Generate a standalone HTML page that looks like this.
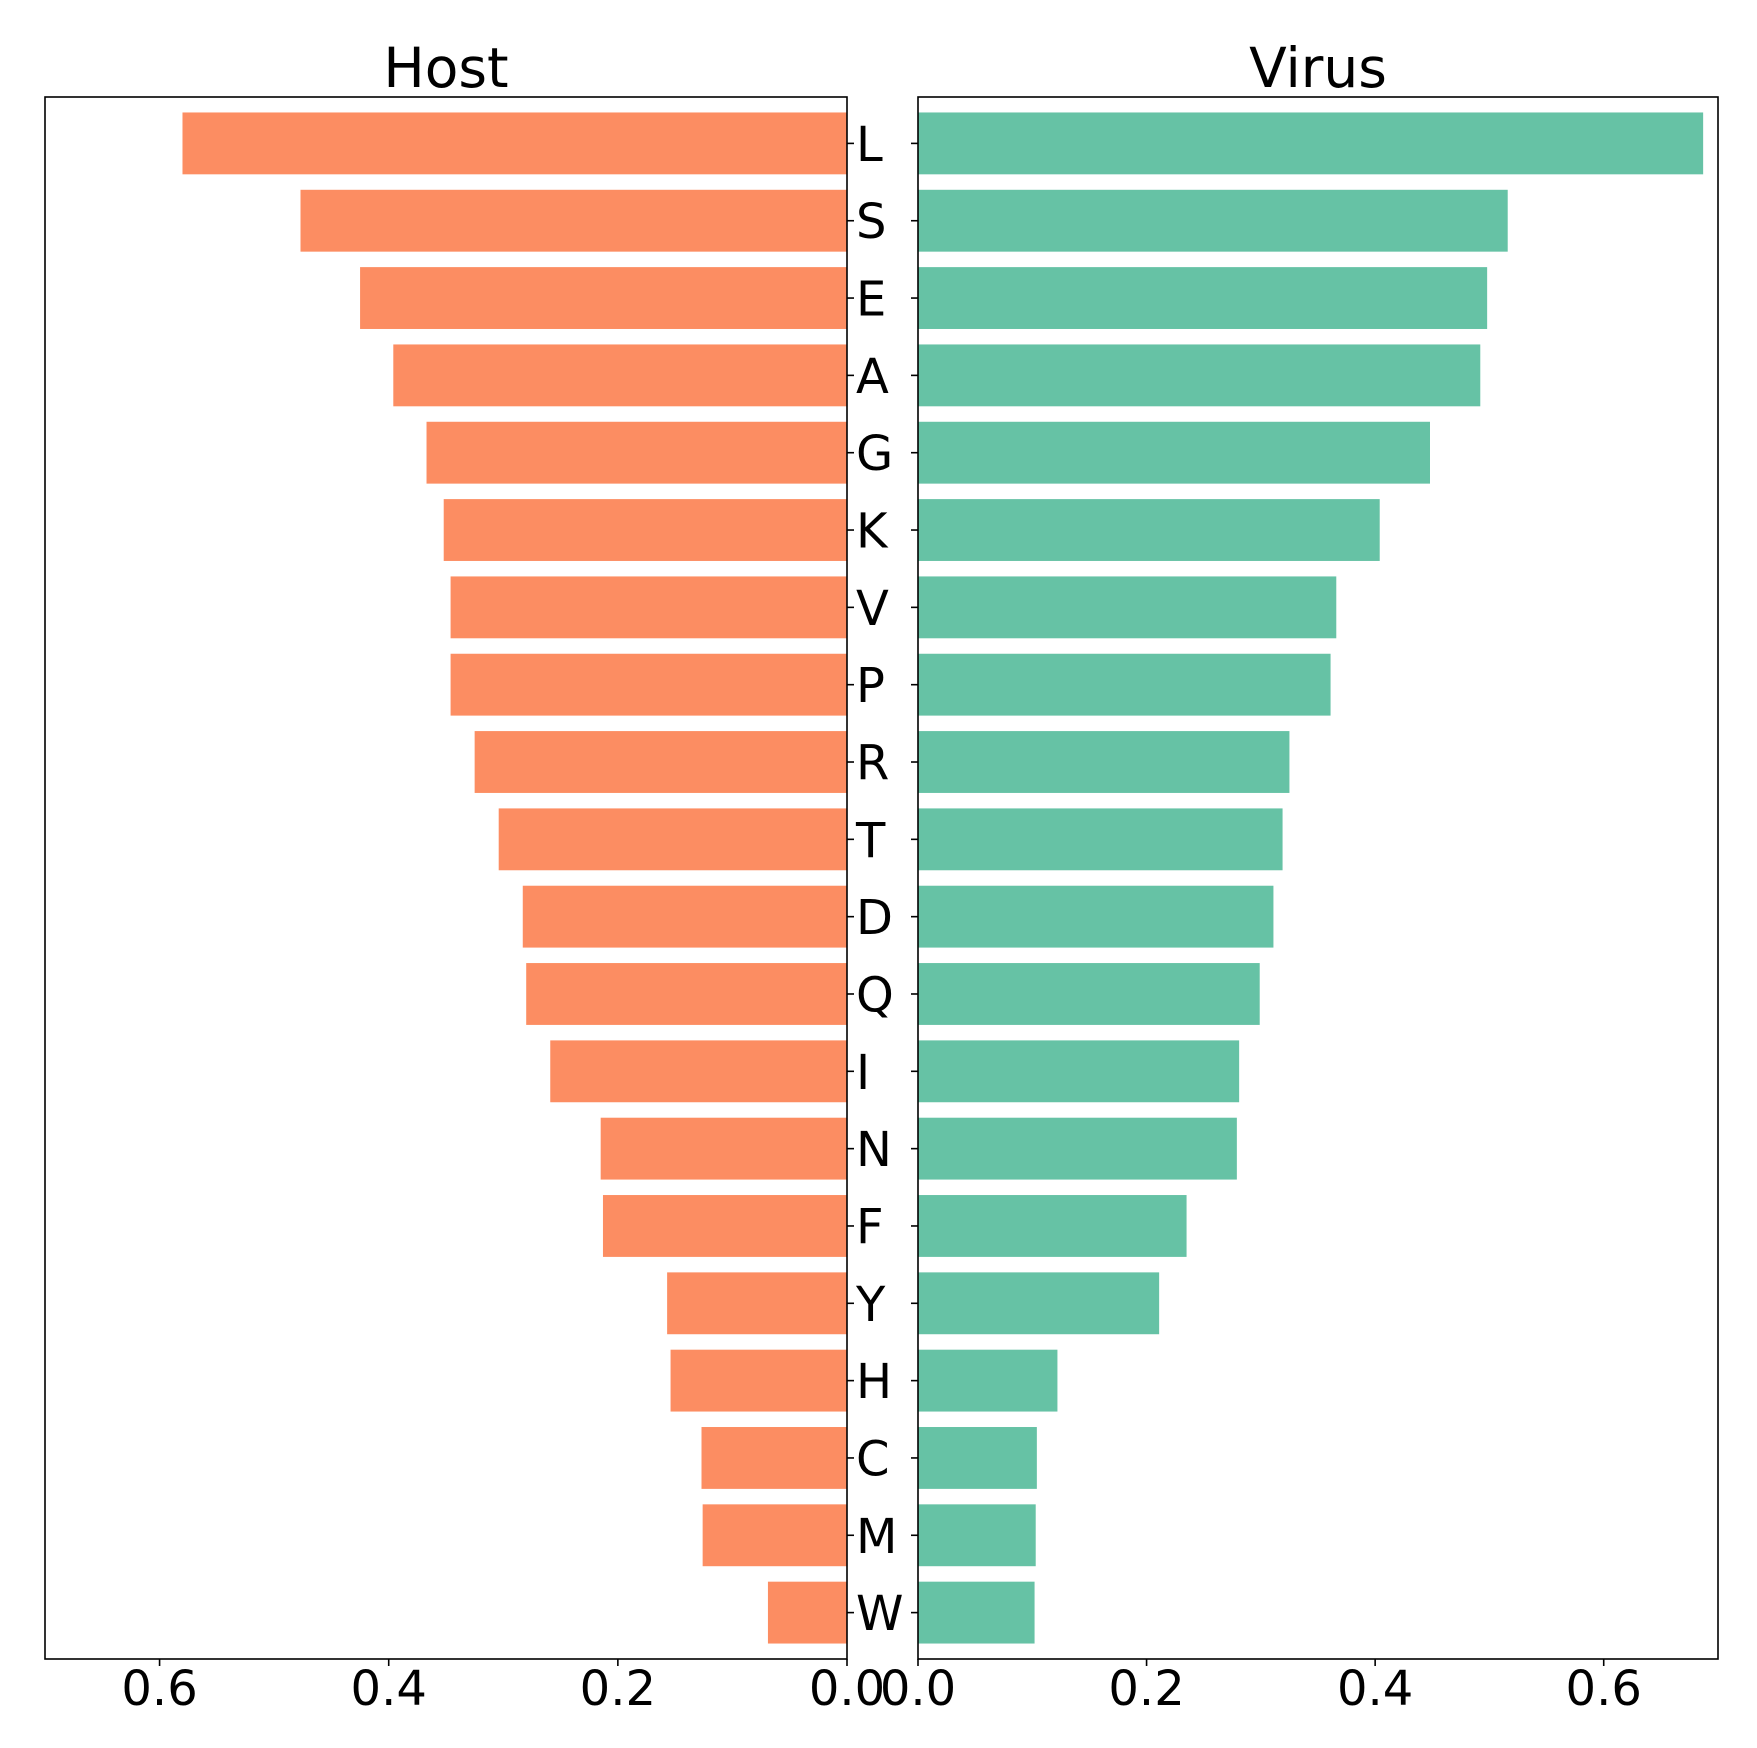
<!DOCTYPE html>
<html><head><meta charset="utf-8"><style>
body{margin:0;background:#fff}
svg{display:block}
text{font-family:"DejaVu Sans","Liberation Sans",sans-serif;fill:#000}
</style></head><body>
<svg id="chart" width="1757" height="1748" viewBox="0 0 1757 1748" xmlns="http://www.w3.org/2000/svg"></svg>
<script>
const categories = ["L","S","E","A","G","K","V","P","R","T","D","Q","I","N","F","Y","H","C","M","W"];
const hostValues = [0.580,0.477,0.425,0.396,0.367,0.352,0.346,0.346,0.325,0.304,0.283,0.280,0.259,0.215,0.213,0.157,0.154,0.127,0.126,0.069];
const virusValues = [0.687,0.516,0.498,0.492,0.448,0.404,0.366,0.361,0.325,0.319,0.311,0.299,0.281,0.279,0.235,0.211,0.122,0.104,0.103,0.102];
const xTicks = [0.0,0.2,0.4,0.6];
const xTickLabels = ["0.0","0.2","0.4","0.6"];

const NS="http://www.w3.org/2000/svg";
const svgEl=document.getElementById('chart');
const plotTop=97,plotBottom=1659;
const yMin=-0.6,yMax=19.6;
const xMax=0.70;
const LA={x0:45,x1:847}, RA={x0:918,x1:1718};
function yPos(i){return plotTop+(i-yMin)/(yMax-yMin)*(plotBottom-plotTop);}
const slot=(plotBottom-plotTop)/(yMax-yMin);
function xLeft(v){return LA.x1-v/xMax*(LA.x1-LA.x0);}
function xRight(v){return RA.x0+v/xMax*(RA.x1-RA.x0);}
function mk(tag,attrs){const e=document.createElementNS(NS,tag);for(const k in attrs)e.setAttribute(k,attrs[k]);svgEl.appendChild(e);return e;}

hostValues.forEach((v,i)=>{
  const r=mk('rect',{x:xLeft(v),y:yPos(i)-0.4*slot,width:LA.x1-xLeft(v),height:0.8*slot,fill:'#fc8d62'});
  
  
});
virusValues.forEach((v,i)=>{
  const r=mk('rect',{x:RA.x0,y:yPos(i)-0.4*slot,width:xRight(v)-RA.x0,height:0.8*slot,fill:'#66c2a5'});
  
  
});

const f1=mk('rect',{x:LA.x0,y:plotTop,width:LA.x1-LA.x0,height:plotBottom-plotTop,fill:'none',stroke:'#000','stroke-width':1.6});


const f2=mk('rect',{x:RA.x0,y:plotTop,width:RA.x1-RA.x0,height:plotBottom-plotTop,fill:'none',stroke:'#000','stroke-width':1.6});



categories.forEach((c,i)=>{
  const y=yPos(i);
  mk('line',{x1:LA.x1,x2:LA.x1+7,y1:y,y2:y,stroke:'#000','stroke-width':1.6});
  mk('line',{x1:RA.x0-7,x2:RA.x0,y1:y,y2:y,stroke:'#000','stroke-width':1.6});
  const t=mk('text',{x:856,y:y+17.5,'font-size':48});
  t.textContent=c;
  
  
});

xTicks.forEach((v,i)=>{
  const xl=xLeft(v), xr=xRight(v);
  mk('line',{x1:xl,x2:xl,y1:plotBottom,y2:plotBottom+7,stroke:'#000','stroke-width':1.6});
  mk('line',{x1:xr,x2:xr,y1:plotBottom,y2:plotBottom+7,stroke:'#000','stroke-width':1.6});
  const t1=mk('text',{x:xl,y:1705,'font-size':48,'text-anchor':'middle'});
  t1.textContent=xTickLabels[i];
  
  
  const t2=mk('text',{x:xr,y:1705,'font-size':48,'text-anchor':'middle'});
  t2.textContent=xTickLabels[i];
  
  
});

const h=mk('text',{x:(LA.x0+LA.x1)/2,y:87,'font-size':55,'text-anchor':'middle'});
h.textContent='Host';


const vt=mk('text',{x:(RA.x0+RA.x1)/2,y:87,'font-size':55,'text-anchor':'middle'});
vt.textContent='Virus';


</script>
</body></html>
